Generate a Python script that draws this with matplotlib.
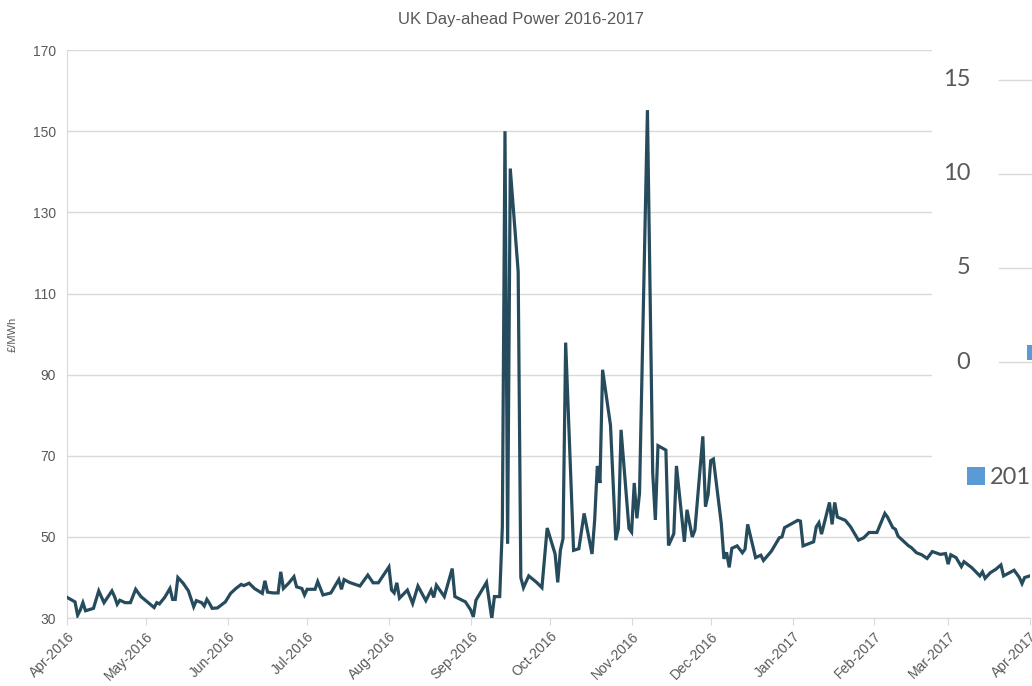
import matplotlib
matplotlib.use("Agg")
import matplotlib.pyplot as plt
import matplotlib.dates as mdates
from matplotlib.patches import Rectangle
import pandas as pd

# UK day-ahead power price
dates = [
    "2016-04-01", "2016-04-04", "2016-04-05", "2016-04-06", "2016-04-07", "2016-04-08",
    "2016-04-11", "2016-04-13", "2016-04-15", "2016-04-18", "2016-04-19", "2016-04-20",
    "2016-04-21", "2016-04-23", "2016-04-25", "2016-04-27", "2016-04-29", "2016-05-04",
    "2016-05-05", "2016-05-06", "2016-05-08", "2016-05-10", "2016-05-11", "2016-05-12",
    "2016-05-13", "2016-05-15", "2016-05-17", "2016-05-19", "2016-05-20", "2016-05-22",
    "2016-05-23", "2016-05-24", "2016-05-25", "2016-05-26", "2016-05-28", "2016-05-31",
    "2016-06-02", "2016-06-04", "2016-06-06", "2016-06-07", "2016-06-09", "2016-06-11",
    "2016-06-14", "2016-06-15", "2016-06-16", "2016-06-18", "2016-06-20", "2016-06-21",
    "2016-06-22", "2016-06-24", "2016-06-26", "2016-06-27", "2016-06-29", "2016-06-30",
    "2016-07-01", "2016-07-04", "2016-07-05", "2016-07-07", "2016-07-10", "2016-07-13",
    "2016-07-14", "2016-07-15", "2016-07-17", "2016-07-21", "2016-07-24", "2016-07-26",
    "2016-07-28", "2016-08-01", "2016-08-02", "2016-08-03", "2016-08-04", "2016-08-05",
    "2016-08-08", "2016-08-10", "2016-08-12", "2016-08-15", "2016-08-17", "2016-08-18",
    "2016-08-19", "2016-08-22", "2016-08-25", "2016-08-26", "2016-08-30", "2016-09-01",
    "2016-09-02", "2016-09-03", "2016-09-07", "2016-09-09", "2016-09-10", "2016-09-12",
    "2016-09-13", "2016-09-14", "2016-09-15", "2016-09-16", "2016-09-19", "2016-09-20",
    "2016-09-21", "2016-09-23", "2016-09-26", "2016-09-28", "2016-09-30", "2016-10-03",
    "2016-10-04", "2016-10-05", "2016-10-06", "2016-10-07", "2016-10-10", "2016-10-12",
    "2016-10-14", "2016-10-17", "2016-10-18", "2016-10-19", "2016-10-20", "2016-10-21",
    "2016-10-24", "2016-10-26", "2016-10-27", "2016-10-28", "2016-10-31", "2016-11-01",
    "2016-11-02", "2016-11-03", "2016-11-04", "2016-11-07", "2016-11-09", "2016-11-10",
    "2016-11-11", "2016-11-14", "2016-11-15", "2016-11-17", "2016-11-18", "2016-11-21",
    "2016-11-22", "2016-11-24", "2016-11-25", "2016-11-28", "2016-11-29", "2016-11-30",
    "2016-12-01", "2016-12-02", "2016-12-05", "2016-12-06", "2016-12-07", "2016-12-08",
    "2016-12-09", "2016-12-11", "2016-12-13", "2016-12-14", "2016-12-15", "2016-12-18",
    "2016-12-20", "2016-12-21", "2016-12-24", "2016-12-27", "2016-12-28", "2016-12-29",
    "2017-01-03", "2017-01-04", "2017-01-05", "2017-01-09", "2017-01-10", "2017-01-11",
    "2017-01-12", "2017-01-15", "2017-01-16", "2017-01-17", "2017-01-18", "2017-01-21",
    "2017-01-23", "2017-01-26", "2017-01-28", "2017-01-30", "2017-02-02", "2017-02-05",
    "2017-02-06", "2017-02-08", "2017-02-09", "2017-02-10", "2017-02-14", "2017-02-15",
    "2017-02-17", "2017-02-19", "2017-02-21", "2017-02-23", "2017-02-26", "2017-02-28",
    "2017-03-01", "2017-03-02", "2017-03-04", "2017-03-06", "2017-03-07", "2017-03-10",
    "2017-03-13", "2017-03-14", "2017-03-15", "2017-03-17", "2017-03-19", "2017-03-21",
    "2017-03-22", "2017-03-26", "2017-03-28", "2017-03-29", "2017-03-30", "2017-04-01",
]
prices = [
    35.1, 34.0, 30.7, 32.0, 33.8, 31.8,
    32.4, 36.7, 33.8, 36.7, 35.3, 33.4,
    34.4, 33.8, 33.8, 37.1, 35.3, 32.6,
    33.8, 33.5, 35.1, 37.3, 34.6, 34.6,
    40.0, 38.6, 36.7, 32.8, 34.3, 33.8,
    33.0, 34.6, 33.6, 32.4, 32.5, 34.0,
    36.1, 37.3, 38.3, 38.0, 38.6, 37.3,
    36.1, 39.2, 36.4, 36.2, 36.2, 41.4,
    37.3, 38.6, 40.2, 37.7, 37.3, 35.7,
    37.1, 37.1, 39.0, 35.7, 36.2, 39.5,
    37.1, 39.5, 38.8, 37.9, 40.6, 38.7,
    38.7, 42.6, 36.9, 36.2, 38.7, 34.9,
    36.9, 33.6, 37.9, 34.3, 36.9, 35.1,
    38.1, 35.3, 42.2, 35.3, 34.0, 32.0,
    30.3, 34.4, 38.8, 29.9, 35.3, 35.3,
    52.5, 150.0, 48.3, 140.8, 115.4, 40.0,
    37.5, 40.4, 38.8, 37.5, 52.2, 45.8,
    38.8, 46.7, 49.6, 97.9, 46.7, 47.1,
    55.8, 45.8, 54.2, 67.5, 63.3, 91.2,
    77.5, 49.2, 52.1, 76.4, 52.1, 51.2,
    63.3, 54.6, 60.8, 155.2, 65.8, 54.2,
    72.5, 71.4, 47.9, 50.8, 67.5, 48.8,
    56.7, 50.0, 51.7, 74.8, 57.5, 60.4,
    68.8, 69.2, 53.3, 44.6, 46.2, 42.5,
    47.2, 47.8, 46.1, 47.0, 53.1, 44.9,
    45.5, 44.2, 46.5, 49.8, 50.0, 52.3,
    54.1, 53.9, 47.8, 48.8, 52.5, 53.5,
    50.7, 58.5, 53.1, 58.5, 54.9, 54.1,
    52.5, 49.2, 49.8, 51.1, 51.1, 55.8,
    54.9, 52.3, 51.9, 50.2, 47.8, 47.4,
    46.1, 45.6, 44.7, 46.4, 45.7, 45.9,
    43.3, 45.6, 44.9, 42.7, 43.9, 42.4,
    40.4, 41.4, 39.8, 41.2, 42.0, 43.1,
    40.4, 41.8, 40.0, 38.5, 40.0, 40.4,
]
yticks = [30, 50, 70, 90, 110, 130, 150, 170]

# the other chart that overlaps the screenshot on the right
overlay_ticks = ["15", "10", "5", "0"]
overlay_legend = "201"

grey = "#595959"
line_col = "#264b5c"

x = pd.to_datetime(dates)

fig = plt.figure(figsize=(10.32, 6.86), dpi=100)
ax = fig.add_axes([0.065, 0.099, 0.933, 0.828])

ax.plot(x, prices, color=line_col, lw=2.3, solid_joinstyle="miter", zorder=3)

ax.set_xlim(pd.Timestamp("2016-04-01"), pd.Timestamp("2017-04-01"))
ax.set_ylim(30, 170)
ax.set_yticks(yticks)
ax.yaxis.grid(True, color="#d9d9d9", lw=1)
ax.set_axisbelow(True)

ax.xaxis.set_major_locator(mdates.MonthLocator())
ax.xaxis.set_major_formatter(mdates.DateFormatter("%b-%Y"))
for lab in ax.get_xticklabels():
    lab.set_rotation(45)
    lab.set_ha("right")
    lab.set_rotation_mode("anchor")

for s in ["top", "right"]:
    ax.spines[s].set_visible(False)
for s in ["left", "bottom"]:
    ax.spines[s].set_color("#d9d9d9")
ax.tick_params(axis="y", length=0, pad=8, labelsize=10, labelcolor=grey)
ax.tick_params(axis="x", length=5, color="#d9d9d9", pad=3, labelsize=10, labelcolor=grey)
for lab in ax.get_xticklabels() + ax.get_yticklabels():
    lab.set_family("Liberation Sans")

ax.set_ylabel("£/MWh", fontsize=8, color=grey, family="Liberation Sans", labelpad=11)
fig.text(0.505, 0.972, "UK Day-ahead Power 2016-2017", ha="center", va="center",
         fontsize=12, color=grey, family="Liberation Sans")

# pasted fragment of another chart
fig.patches.append(Rectangle((0.903, 0.27), 0.1, 0.74, transform=fig.transFigure,
                             facecolor="white", edgecolor="none", zorder=5))
for i, t in enumerate(overlay_ticks):
    yy = 1 - (80 + i * 94) / 686
    fig.text(0.94, yy, t, ha="right", va="center", fontsize=17, color=grey,
             family="Lato", zorder=6)
    fig.lines.append(plt.Line2D([0.968, 1.0], [yy, yy], transform=fig.transFigure,
                                color="#d9d9d9", lw=1, zorder=6))
fig.patches.append(Rectangle((0.995, 1 - 360 / 686), 0.006, 15 / 686, transform=fig.transFigure,
                             facecolor="#5b9bd5", edgecolor="none", zorder=6))
fig.patches.append(Rectangle((967 / 1032, 1 - 485 / 686), 18 / 1032, 18 / 686,
                             transform=fig.transFigure, facecolor="#5b9bd5",
                             edgecolor="none", zorder=6))
fig.text(990 / 1032, 1 - 478 / 686, overlay_legend, ha="left", va="center", fontsize=17,
         color=grey, family="Lato", zorder=6)

fig.savefig("out.png", dpi=100)
